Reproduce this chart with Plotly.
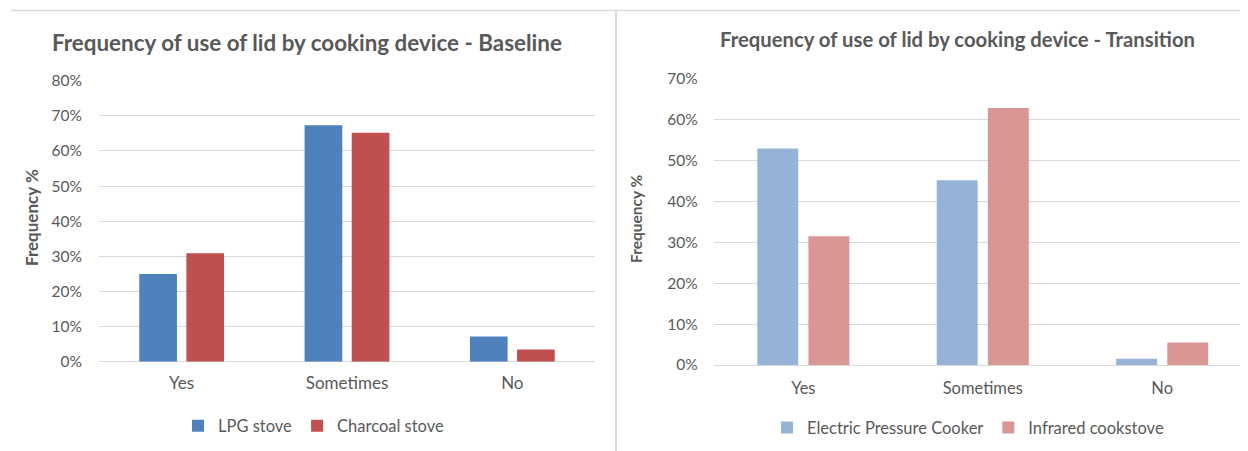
import plotly.graph_objects as go

W, H = 1248, 451
OFF = 8  # page offset of the figure inside the browser window

categories = ["Yes", "Sometimes", "No"]

baseline_series = ["LPG stove", "Charcoal stove"]
lpg_stove = [0.250, 0.673, 0.072]
charcoal_stove = [0.309, 0.652, 0.035]

transition_series = ["Electric Pressure Cooker", "Infrared cookstove"]
electric_pressure_cooker = [0.530, 0.452, 0.015]
infrared_cookstove = [0.315, 0.629, 0.055]

left_title = "Frequency of use of lid by cooking device - Baseline"
right_title = "Frequency of use of lid by cooking device - Transition"
y_title = "Frequency %"

left_ticks = [0, 0.1, 0.2, 0.3, 0.4, 0.5, 0.6, 0.7, 0.8]
right_ticks = [0, 0.1, 0.2, 0.3, 0.4, 0.5, 0.6, 0.7]

FONT = "Lato"
GRAY = "#595959"
GRID = "#D9D9D9"


def px(x):
    return (x - OFF) / W


def py(y):
    return 1 - (y - OFF) / H


fig = go.Figure()

fig.add_trace(go.Bar(x=categories, y=lpg_stove, name=baseline_series[0],
                     marker=dict(color="#4F81BD", line=dict(width=0)),
                     xaxis="x", yaxis="y", legend="legend"))
fig.add_trace(go.Bar(x=categories, y=charcoal_stove, name=baseline_series[1],
                     marker=dict(color="#C0504D", line=dict(width=0)),
                     xaxis="x", yaxis="y", legend="legend"))
fig.add_trace(go.Bar(x=categories, y=electric_pressure_cooker, name=transition_series[0],
                     marker=dict(color="#95B3D7", line=dict(width=0)),
                     xaxis="x2", yaxis="y2", legend="legend2"))
fig.add_trace(go.Bar(x=categories, y=infrared_cookstove, name=transition_series[1],
                     marker=dict(color="#D99694", line=dict(width=0)),
                     xaxis="x2", yaxis="y2", legend="legend2"))

ytick_font = dict(family=FONT, size=15.5, color=GRAY)
xtick_font_l = dict(family=FONT, size=17, color=GRAY)
xtick_font_r = dict(family=FONT, size=16.5, color=GRAY)

fig.update_layout(
    width=W, height=H,
    margin=dict(l=0, r=0, t=0, b=0, autoexpand=False),
    paper_bgcolor="white", plot_bgcolor="white",
    barmode="group", bargap=0.43, bargroupgap=0.2,
    font=dict(family=FONT, color=GRAY),
    xaxis=dict(domain=[px(99), px(595)], anchor="y", type="category",
               range=[-0.5, 2.5], showgrid=False, showline=False, ticks="",
               tickfont=xtick_font_l, ticklabelstandoff=9),
    yaxis=dict(domain=[py(361.7), py(80.7)], anchor="x", range=[0, 0.8],
               tickvals=left_ticks, tickformat=".0%", showgrid=True,
               gridcolor=GRID, gridwidth=1, zeroline=True, zerolinecolor=GRID,
               zerolinewidth=1, showline=False, ticks="", tickfont=ytick_font,
               ticklabelstandoff=16),
    xaxis2=dict(domain=[px(713.6), px(1251.9)], anchor="y2", type="category",
                range=[-0.5, 2.5], showgrid=False,
                showline=False, ticks="", tickfont=xtick_font_r,
                ticklabelstandoff=11),
    yaxis2=dict(domain=[py(365), py(79)], anchor="x2", range=[0, 0.7],
                tickvals=right_ticks, tickformat=".0%", showgrid=True,
                gridcolor=GRID, gridwidth=1, zeroline=True, zerolinecolor=GRID,
                zerolinewidth=1, showline=False, ticks="", tickfont=ytick_font,
                ticklabelstandoff=15),
    legend=dict(orientation="h", x=px(314), y=py(426), xanchor="center",
                yanchor="middle", font=dict(family=FONT, size=16.5, color=GRAY),
                bgcolor="rgba(0,0,0,0)", itemwidth=30),
    legend2=dict(orientation="h", x=px(968), y=py(427.7), xanchor="center",
                 yanchor="middle", font=dict(family=FONT, size=16.5, color=GRAY),
                 bgcolor="rgba(0,0,0,0)", itemwidth=30),
    showlegend=True,
)

annotations = [
    dict(text="<b>" + left_title + "</b>", x=px(307), y=py(42), xref="paper",
         yref="paper", xanchor="center", yanchor="middle", showarrow=False,
         font=dict(family=FONT, size=22.4, color=GRAY)),
    dict(text="<b>" + right_title + "</b>", x=px(957), y=py(39), xref="paper",
         yref="paper", xanchor="center", yanchor="middle", showarrow=False,
         font=dict(family=FONT, size=20.3, color=GRAY)),
    dict(text="<b>" + y_title + "</b>", x=px(32), y=py(218), xref="paper",
         yref="paper", xanchor="center", yanchor="middle", showarrow=False,
         textangle=-90, font=dict(family=FONT, size=17, color=GRAY)),
    dict(text="<b>" + y_title + "</b>", x=px(636), y=py(219), xref="paper",
         yref="paper", xanchor="center", yanchor="middle", showarrow=False,
         textangle=-90, font=dict(family=FONT, size=15.5, color=GRAY)),
]
fig.update_layout(annotations=annotations)

shapes = [
    dict(type="line", xref="paper", yref="paper", x0=px(11), x1=px(1260),
         y0=py(10.5), y1=py(10.5), line=dict(color=GRID, width=1.5)),
    dict(type="line", xref="paper", yref="paper", x0=px(616), x1=px(616),
         y0=py(10), y1=py(460), line=dict(color=GRID, width=2)),
]
fig.update_layout(shapes=shapes)

fig.write_html("out.html")
